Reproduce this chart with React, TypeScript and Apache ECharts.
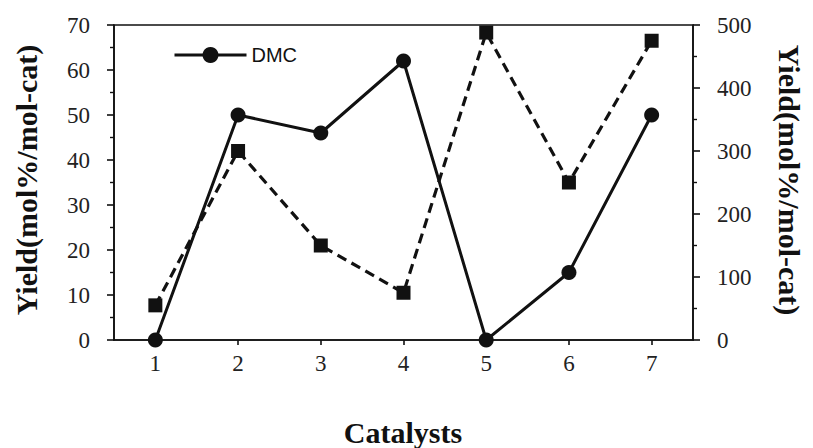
import React, { useEffect, useRef } from "react";
import * as echarts from "echarts";

// Catalyst numbers along the x axis
const catalysts = ["1", "2", "3", "4", "5", "6", "7"];
// DMC yield (left axis, mol%)
const dmcYield = [0, 50, 46, 62, 0, 15, 50];
// Yield per mole of catalyst (right axis)
const yieldPerCat = [55, 300, 150, 75, 488, 250, 475];

const serif = "'Liberation Serif', 'Times New Roman', serif";
const ink = "#111";

export default function App() {
  const ref = useRef<HTMLDivElement>(null);

  useEffect(() => {
    if (!ref.current) return;
    const chart = echarts.init(ref.current, null, { renderer: "svg" });
    const axisLine = { show: true, lineStyle: { color: ink, width: 1.6 } };
    const titleStyle = {
      font: `bold 30px ${serif}`,
      fill: ink,
      align: "center",
      verticalAlign: "middle",
    };
    chart.setOption({
      animation: false,
      backgroundColor: "#fff",
      grid: {
        left: 114,
        right: 120,
        top: 25,
        bottom: 108,
        show: true,
        borderColor: ink,
        borderWidth: 1.6,
      },
      legend: {
        data: ["DMC"],
        left: 168,
        top: 40,
        itemWidth: 72,
        itemHeight: 20,
        itemGap: 6,
        lineStyle: { width: 3, color: ink },
        textStyle: {
          fontFamily: "'Liberation Sans', Arial, sans-serif",
          fontSize: 20,
          color: ink,
        },
      },
      xAxis: {
        type: "category",
        data: catalysts,
        boundaryGap: true,
        axisLine,
        axisTick: { show: true, alignWithLabel: true, length: 5, lineStyle: { color: ink, width: 1.6 } },
        axisLabel: { fontFamily: serif, fontSize: 23, color: "#222", margin: 12 },
        splitLine: { show: false },
      },
      yAxis: [
        {
          type: "value",
          min: 0,
          max: 70,
          interval: 10,
          position: "left",
          axisLine,
          axisTick: { show: true, length: 7, lineStyle: { color: ink, width: 1.6 } },
          minorTick: { show: true, splitNumber: 2, length: 4, lineStyle: { color: ink, width: 1.4 } },
          axisLabel: { fontFamily: serif, fontSize: 23, color: "#222", margin: 24 },
          splitLine: { show: false },
        },
        {
          type: "value",
          min: 0,
          max: 500,
          interval: 100,
          position: "right",
          axisLine,
          axisTick: { show: true, length: 7, lineStyle: { color: ink, width: 1.6 } },
          minorTick: { show: true, splitNumber: 2, length: 4, lineStyle: { color: ink, width: 1.4 } },
          axisLabel: { fontFamily: serif, fontSize: 23, color: "#222", margin: 24 },
          splitLine: { show: false },
        },
      ],
      series: [
        {
          name: "DMC",
          type: "line",
          yAxisIndex: 0,
          data: dmcYield,
          symbol: "circle",
          symbolSize: 15,
          itemStyle: { color: ink },
          lineStyle: { color: ink, width: 3 },
          z: 3,
        },
        {
          name: "DMC/cat",
          type: "line",
          yAxisIndex: 1,
          data: yieldPerCat,
          symbol: "rect",
          symbolSize: 14,
          itemStyle: { color: ink },
          lineStyle: { color: ink, width: 3.2, type: [10, 6] },
          z: 2,
        },
      ],
      graphic: [
        {
          type: "text",
          x: 26,
          y: 180,
          rotation: Math.PI / 2,
          style: { text: "Yield(mol%/mol-cat)", ...titleStyle },
        },
        {
          type: "text",
          x: 789,
          y: 180,
          rotation: -Math.PI / 2,
          style: { text: "Yield(mol%/mol-cat)", ...titleStyle },
        },
        {
          type: "text",
          x: 403,
          y: 432,
          style: { text: "Catalysts", ...titleStyle },
        },
      ],
    });
    return () => chart.dispose();
  }, []);

  return (
    <div
      ref={ref}
      style={{ position: "absolute", left: 0, top: 0, width: 813, height: 448 }}
    />
  );
}
